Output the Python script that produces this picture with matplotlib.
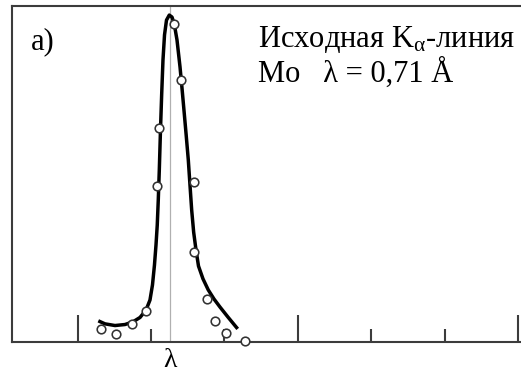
import matplotlib
matplotlib.use("Agg")
import matplotlib.pyplot as plt

# measured points (x in tick units, y relative intensity)
pts_x = [0.313, 0.522, 0.736, 0.931, 1.076, 1.112, 1.316, 1.407,
         1.578, 1.589, 1.768, 1.871, 2.020, 2.286]
pts_y = [0.039, 0.025, 0.055, 0.091, 0.464, 0.636, 0.946, 0.780,
         0.477, 0.269, 0.128, 0.0625, 0.027, 0.003]

# hand-drawn fit curve
curve_x = [0.281, 0.372, 0.508, 0.644, 0.753, 0.849, 0.931, 0.985, 1.019,
           1.046, 1.067, 1.084, 1.098, 1.112, 1.128, 1.144, 1.162, 1.183,
           1.210, 1.248, 1.285, 1.316, 1.353, 1.394, 1.421, 1.448, 1.478,
           1.507, 1.530, 1.553, 1.580, 1.612, 1.646, 1.707, 1.779, 1.857,
           1.939, 2.048, 2.180]
curve_y = [0.063, 0.054, 0.049, 0.052, 0.060, 0.073, 0.095, 0.125, 0.170,
           0.229, 0.289, 0.348, 0.423, 0.512, 0.631, 0.735, 0.839, 0.914,
           0.958, 0.973, 0.967, 0.946, 0.899, 0.819, 0.756, 0.690, 0.616,
           0.542, 0.467, 0.393, 0.327, 0.274, 0.226, 0.188, 0.155, 0.128,
           0.104, 0.074, 0.039]

lam_x = 1.262
major_ticks = [0, 3, 6]
minor_ticks = [1, 2, 4, 5]

plt.rcParams["font.family"] = ["Liberation Serif", "DejaVu Serif"]
plt.rcParams["mathtext.fontset"] = "custom"
plt.rcParams["mathtext.rm"] = "Liberation Serif"
plt.rcParams["mathtext.it"] = "Liberation Serif"

fig = plt.figure(figsize=(5.21, 3.74), dpi=100)
ax = fig.add_axes([12 / 521, 32 / 374, 509 / 521, 336 / 374])
ax.set_xlim(-0.895, 6.04)
ax.set_ylim(0, 1)

frame_c = "#3c3c3c"
for s in ["left", "top", "bottom"]:
    ax.spines[s].set_linewidth(1.5)
    ax.spines[s].set_color(frame_c)
ax.spines["right"].set_visible(False)
ax.spines["bottom"].set_bounds(-0.895, 6.02)

ax.axvline(lam_x, color="#b0b0b0", lw=0.9, zorder=1)
ax.plot(curve_x, curve_y, color="black", lw=2.5, solid_capstyle="butt", zorder=2)
ax.plot(pts_x, pts_y, "o", ms=6.2, mfc="white", mec="#333333", mew=1.15,
        zorder=3, clip_on=False)

ax.set_xticks(major_ticks)
ax.set_xticks(minor_ticks, minor=True)
ax.tick_params(axis="x", which="major", direction="in", length=19.5, width=1.5,
               color=frame_c, labelbottom=False)
ax.tick_params(axis="x", which="minor", direction="in", length=9.5, width=1.5,
               color=frame_c)
ax.set_yticks([])

ax.text(lam_x, -0.073, "λ", ha="center", va="baseline", fontsize=20)
ax.text(0.038, 0.871, "a)", transform=ax.transAxes, fontsize=22,
        va="baseline")
ax.text(0.483, 0.878, "Исходная K$_{\\mathrm{α}}$-линия",
        transform=ax.transAxes, fontsize=22, va="baseline")
ax.text(0.483, 0.774, "Mo   λ = 0,71 Å", transform=ax.transAxes, fontsize=22,
        va="baseline")

fig.savefig("out.png", dpi=100)
